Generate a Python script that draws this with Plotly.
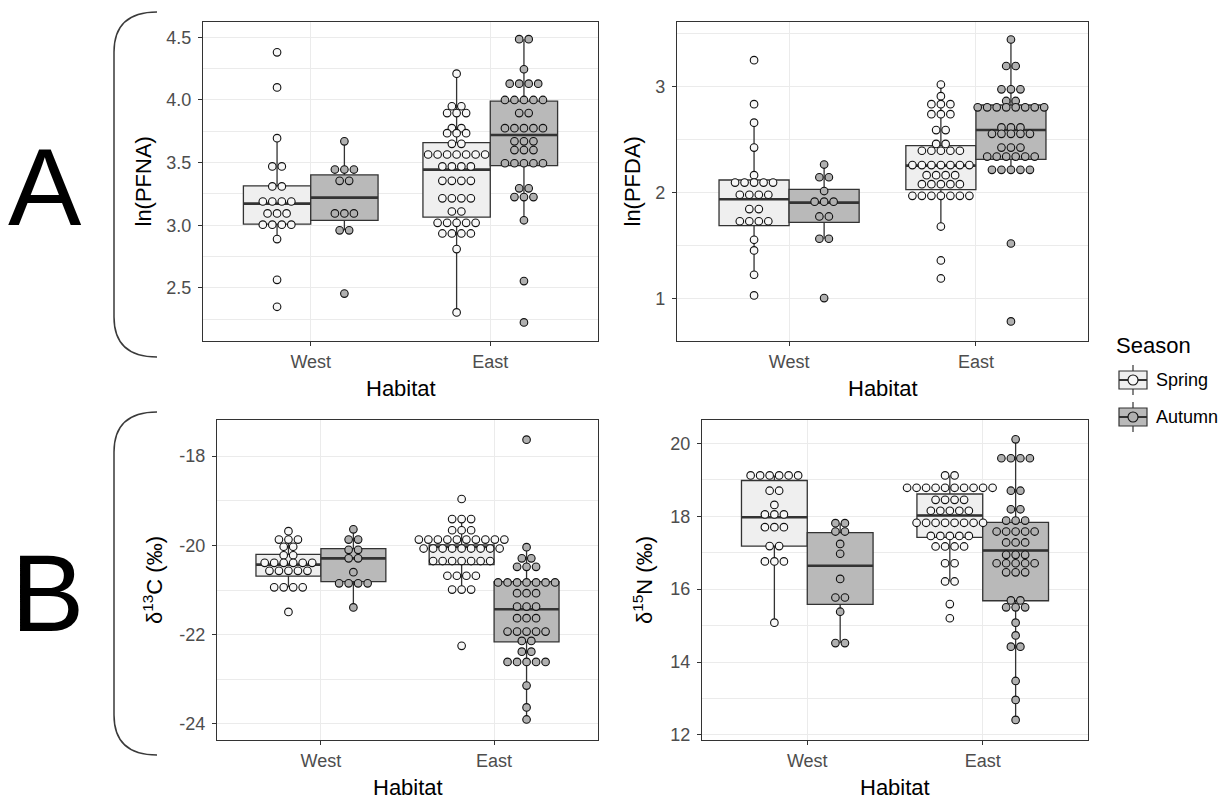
import plotly.graph_objects as go

# Reference canvas size; the page body adds an 8px margin, so the figure is drawn
# 8px smaller and all layout positions are shifted by that margin.
W, H = 1230, 802
PAGE_MARGIN = 8
FIG_W, FIG_H = W - PAGE_MARGIN, H - PAGE_MARGIN

habitats = ["West", "East"]
seasons = ["Spring", "Autumn"]

# ---------------- ln(PFNA) ----------------
pfna_west_spring = [4.38, 4.10, 3.695, 3.47, 3.47, 3.31, 3.31, 3.19, 3.19, 3.19, 3.19,
                    3.095, 3.095, 3.095, 3.005, 3.005, 3.005, 3.005, 2.89, 2.565, 2.35]
pfna_west_autumn = [3.67, 3.445, 3.445, 3.445, 3.355, 3.355, 3.095, 3.095, 3.095,
                    2.96, 2.96, 2.455]
pfna_east_spring = [4.21, 3.95, 3.95, 3.895, 3.895, 3.895, 3.775, 3.775, 3.735, 3.735, 3.735,
                    3.65, 3.65, 3.565, 3.565, 3.565, 3.565, 3.565, 3.565, 3.565,
                    3.47, 3.47, 3.47, 3.47, 3.355, 3.355, 3.355, 3.355,
                    3.215, 3.215, 3.215, 3.215, 3.11, 3.11, 3.02, 3.02, 3.02, 3.02, 3.02,
                    2.935, 2.935, 2.935, 2.935, 2.81, 2.305]
pfna_east_autumn = [4.485, 4.485, 4.245, 4.13, 4.13, 4.13, 4.13, 4.0, 4.0, 4.0, 4.0, 4.0,
                    3.895, 3.895, 3.775, 3.775, 3.775, 3.775, 3.775, 3.67, 3.67, 3.67,
                    3.60, 3.60, 3.60, 3.495, 3.495, 3.495, 3.495, 3.495, 3.295, 3.295,
                    3.225, 3.225, 3.225, 3.04, 2.555, 2.225]
# box stats order: West-Spring, West-Autumn, East-Spring, East-Autumn
pfna_q1 = [3.01, 3.04, 3.065, 3.476]
pfna_med = [3.173, 3.221, 3.444, 3.721]
pfna_q3 = [3.314, 3.402, 3.66, 3.99]
pfna_lo = [2.89, 2.96, 2.305, 3.04]
pfna_hi = [3.695, 3.67, 4.21, 4.485]
pfna_ticks = [2.5, 3.0, 3.5, 4.0, 4.5]
pfna_ticklabels = ["2.5", "3.0", "3.5", "4.0", "4.5"]
pfna_minor = [2.25, 2.75, 3.25, 3.75, 4.25]

# ---------------- ln(PFDA) ----------------
pfda_west_spring = [3.25, 2.835, 2.66, 2.425, 2.165, 2.095, 2.095, 2.095, 2.095, 2.095,
                    1.98, 1.98, 1.98, 1.98, 1.845, 1.845, 1.73, 1.73, 1.73, 1.73,
                    1.555, 1.455, 1.225, 1.03]
pfda_west_autumn = [2.265, 2.145, 2.145, 2.015, 1.915, 1.915, 1.915, 1.775, 1.775,
                    1.565, 1.565, 1.005]
pfda_east_spring = [3.02, 2.91, 2.835, 2.835, 2.835, 2.74, 2.74, 2.74, 2.59, 2.59,
                    2.46, 2.46, 2.395, 2.395, 2.395, 2.395, 2.395,
                    2.26, 2.26, 2.26, 2.26, 2.26, 2.26, 2.26, 2.165, 2.165, 2.165, 2.165,
                    2.08, 2.08, 2.08, 2.08, 2.08, 1.97, 1.97, 1.97, 1.97, 1.97, 1.97, 1.97,
                    1.68, 1.36, 1.19]
pfda_east_autumn = [3.445, 3.195, 3.195, 2.975, 2.975, 2.975, 2.865, 2.865,
                    2.805, 2.805, 2.805, 2.805, 2.805, 2.805, 2.805, 2.805,
                    2.615, 2.615, 2.615, 2.555, 2.555, 2.555, 2.555, 2.555,
                    2.425, 2.425, 2.425, 2.34, 2.34, 2.34, 2.34, 2.34, 2.34,
                    2.215, 2.215, 2.215, 2.215, 2.215, 1.52, 0.785]
pfda_q1 = [1.689, 1.72, 2.028, 2.314]
pfda_med = [1.937, 1.906, 2.255, 2.591]
pfda_q3 = [2.119, 2.031, 2.443, 2.827]
pfda_lo = [1.225, 1.565, 1.68, 2.215]
pfda_hi = [2.66, 2.265, 3.02, 3.445]
pfda_ticks = [1, 2, 3]
pfda_ticklabels = ["1", "2", "3"]
pfda_minor = [1.5, 2.5, 3.5]

# ---------------- d13C ----------------
d13c_west_spring = [-19.68, -19.87, -19.87, -19.87, -20.03, -20.03, -20.22, -20.22,
                    -20.39, -20.39, -20.39, -20.39, -20.39, -20.39,
                    -20.57, -20.57, -20.57, -20.57, -20.57,
                    -20.94, -20.94, -20.94, -20.94, -21.49]
d13c_west_autumn = [-19.64, -19.87, -19.87, -20.10, -20.10, -20.29, -20.29, -20.60,
                    -20.85, -20.85, -20.85, -20.85, -21.39]
d13c_east_spring = [-18.96, -19.41, -19.41, -19.41, -19.66, -19.66, -19.66,
                    -19.87, -19.87, -19.87, -19.87, -19.87, -19.87, -19.87, -19.87, -19.87, -19.87,
                    -20.07, -20.07, -20.07, -20.07, -20.07, -20.07, -20.07, -20.07, -20.07,
                    -20.35, -20.35, -20.35, -20.35, -20.35, -20.35, -20.35,
                    -20.68, -20.68, -20.68, -20.68, -20.99, -20.99, -20.99, -22.25]
d13c_east_autumn = [-17.63, -20.04, -20.29, -20.29, -20.48, -20.48, -20.48,
                    -20.83, -20.83, -20.83, -20.83, -20.83, -20.83, -20.83,
                    -21.07, -21.07, -21.07, -21.37, -21.37, -21.37, -21.63, -21.63, -21.63,
                    -21.93, -21.93, -21.93, -21.93, -21.93, -22.14, -22.14, -22.38, -22.38,
                    -22.61, -22.61, -22.61, -22.61, -22.61, -23.14, -23.63, -23.90]
d13c_q1 = [-20.69, -20.81, -20.43, -22.16]
d13c_med = [-20.43, -20.29, -20.03, -21.43]
d13c_q3 = [-20.20, -20.07, -19.99, -20.81]
d13c_lo = [-20.94, -21.39, -20.99, -23.90]
d13c_hi = [-19.68, -19.64, -19.41, -20.04]
d13c_ticks = [-24, -22, -20, -18]
d13c_ticklabels = ["-24", "-22", "-20", "-18"]
d13c_minor = [-23, -21, -19]

# ---------------- d15N ----------------
d15n_west_spring = [19.12, 19.12, 19.12, 19.12, 19.12, 19.12, 18.70, 18.70, 18.31,
                    18.05, 18.05, 18.05, 17.70, 17.70, 17.70, 17.18, 17.18,
                    16.76, 16.76, 16.76, 15.08]
d15n_west_autumn = [17.81, 17.81, 17.58, 17.58, 17.24, 16.97, 16.28, 15.77, 15.77,
                    15.38, 14.52, 14.52]
d15n_east_spring = [19.12, 19.12, 18.78, 18.78, 18.78, 18.78, 18.78, 18.78, 18.78, 18.78,
                    18.78, 18.78, 18.45, 18.45, 18.45, 18.45, 18.15, 18.15, 18.15, 18.15,
                    18.15, 17.82, 17.82, 17.82, 17.82, 17.82, 17.82, 17.82, 17.82,
                    17.46, 17.46, 17.46, 17.46, 17.46, 17.17, 17.17, 17.17, 17.17,
                    16.71, 16.71, 16.21, 16.21, 15.59, 15.20]
d15n_east_autumn = [20.11, 19.59, 19.59, 19.59, 19.59, 18.70, 18.70, 18.19, 18.19,
                    17.88, 17.88, 17.88, 17.58, 17.58, 17.58, 17.58, 17.58,
                    17.28, 17.28, 17.28, 16.94, 16.94, 16.94, 16.71, 16.71, 16.71, 16.71, 16.71,
                    16.46, 16.46, 16.46, 15.69, 15.69, 15.50, 15.50, 15.50, 15.08, 14.73,
                    14.42, 14.42, 13.48, 12.96, 12.41]
d15n_q1 = [17.18, 15.58, 17.42, 15.68]
d15n_med = [17.97, 16.64, 18.02, 17.06]
d15n_q3 = [18.98, 17.55, 18.61, 17.83]
d15n_lo = [15.08, 14.52, 16.21, 12.41]
d15n_hi = [19.12, 17.81, 19.12, 20.11]
d15n_ticks = [12, 14, 16, 18, 20]
d15n_ticklabels = ["12", "14", "16", "18", "20"]
d15n_minor = [13, 15, 17, 19]

# ---------------- styling ----------------
BOX_FILL = {"Spring": "#efefef", "Autumn": "#b9b9b9"}
DOT_FILL = {"Spring": "#f7f7f7", "Autumn": "#b0b0b0"}
DARK = "#333333"
FONT = "Liberation Sans, Arial, sans-serif"
DODGE = 0.1875
BOXW = 0.375
XRANGE = [0.4, 2.6]
DOT_SPACING_PX = 9.5

panels = [
    dict(ax="", px=(203, 598), py=(22, 341), yr=(2.077, 4.622), title="ln(PFNA)", tx=143,
         groups=[pfna_west_spring, pfna_west_autumn, pfna_east_spring, pfna_east_autumn],
         q1=pfna_q1, med=pfna_med, q3=pfna_q3, lo=pfna_lo, hi=pfna_hi,
         tv=pfna_ticks, tt=pfna_ticklabels, mv=pfna_minor),
    dict(ax="2", px=(677, 1088), py=(22, 341), yr=(0.60, 3.61), title="ln(PFDA)", tx=632,
         groups=[pfda_west_spring, pfda_west_autumn, pfda_east_spring, pfda_east_autumn],
         q1=pfda_q1, med=pfda_med, q3=pfda_q3, lo=pfda_lo, hi=pfda_hi,
         tv=pfda_ticks, tt=pfda_ticklabels, mv=pfda_minor),
    dict(ax="3", px=(217, 598), py=(420, 740), yr=(-24.36, -17.19),
         title="δ<sup>13</sup>C (‰)", tx=153,
         groups=[d13c_west_spring, d13c_west_autumn, d13c_east_spring, d13c_east_autumn],
         q1=d13c_q1, med=d13c_med, q3=d13c_q3, lo=d13c_lo, hi=d13c_hi,
         tv=d13c_ticks, tt=d13c_ticklabels, mv=d13c_minor),
    dict(ax="4", px=(702, 1088), py=(420, 740), yr=(11.86, 20.64),
         title="δ<sup>15</sup>N (‰)", tx=643,
         groups=[d15n_west_spring, d15n_west_autumn, d15n_east_spring, d15n_east_autumn],
         q1=d15n_q1, med=d15n_med, q3=d15n_q3, lo=d15n_lo, hi=d15n_hi,
         tv=d15n_ticks, tt=d15n_ticklabels, mv=d15n_minor),
]


def px2x(px):
    return (px - PAGE_MARGIN) / FIG_W


def px2y(py):
    return 1 - (py - PAGE_MARGIN) / FIG_H


fig = go.Figure()
annotations = []
shapes = []

for p in panels:
    xa, ya = "x" + p["ax"], "y" + p["ax"]
    unit_px = (p["px"][1] - p["px"][0]) / (XRANGE[1] - XRANGE[0])
    dx = DOT_SPACING_PX / unit_px

    # boxes
    for si, season in enumerate(seasons):
        idx = [hi_ * 2 + si for hi_ in range(len(habitats))]
        centers = [hi_ + 1 + (-DODGE if si == 0 else DODGE) for hi_ in range(len(habitats))]
        fig.add_trace(go.Box(
            x=centers, q1=[p["q1"][i] for i in idx], median=[p["med"][i] for i in idx],
            q3=[p["q3"][i] for i in idx], lowerfence=[p["lo"][i] for i in idx],
            upperfence=[p["hi"][i] for i in idx], width=BOXW, whiskerwidth=0,
            boxpoints=False, fillcolor=BOX_FILL[season],
            line=dict(color=DARK, width=1.3), xaxis=xa, yaxis=ya,
            showlegend=False, hoverinfo="skip", name=season))

    # thick median lines
    mx, my = [], []
    for g in range(4):
        c = g // 2 + 1 + (-DODGE if g % 2 == 0 else DODGE)
        mx += [c - BOXW / 2, c + BOXW / 2, None]
        my += [p["med"][g], p["med"][g], None]
    fig.add_trace(go.Scatter(x=mx, y=my, mode="lines", line=dict(color=DARK, width=2.6),
                             xaxis=xa, yaxis=ya, showlegend=False, hoverinfo="skip"))

    # dot plots (centered stacks)
    for g, vals in enumerate(p["groups"]):
        season = seasons[g % 2]
        c = g // 2 + 1 + (-DODGE if g % 2 == 0 else DODGE)
        counts = {}
        for v in vals:
            counts[v] = counts.get(v, 0) + 1
        xs, ys = [], []
        for v, n in counts.items():
            for k in range(n):
                xs.append(c + (k - (n - 1) / 2) * dx)
                ys.append(v)
        fig.add_trace(go.Scatter(
            x=xs, y=ys, mode="markers", xaxis=xa, yaxis=ya, showlegend=False,
            marker=dict(symbol="circle", size=7.6, color=DOT_FILL[season],
                        line=dict(color="#111111", width=1.1)),
            hoverinfo="y"))

    axis_common = dict(showline=True, mirror=True, linecolor=DARK, linewidth=1.3,
                       ticks="outside", ticklen=4, tickcolor=DARK, tickwidth=1,
                       tickfont=dict(size=18, color="#4d4d4d", family=FONT),
                       showgrid=True, gridcolor="#ebebeb", gridwidth=1.1,
                       zeroline=False, automargin=False)
    fig.update_layout(**{
        "xaxis" + p["ax"]: dict(domain=[px2x(p["px"][0]), px2x(p["px"][1])], range=XRANGE,
                                tickmode="array", tickvals=[1, 2], ticktext=habitats,
                                anchor=ya, ticklabelstandoff=0, **axis_common),
        "yaxis" + p["ax"]: dict(domain=[px2y(p["py"][1]), px2y(p["py"][0])], range=list(p["yr"]),
                                tickmode="array", tickvals=p["tv"], ticktext=p["tt"],
                                anchor=xa, ticklabelstandoff=3,
                                minor=dict(tickmode="array", tickvals=p["mv"], showgrid=True,
                                           gridcolor="#ebebeb", gridwidth=0.6),
                                **axis_common),
    })

    # axis titles
    annotations.append(dict(text="Habitat", x=px2x((p["px"][0] + p["px"][1]) / 2),
                            y=px2y(p["py"][1] + 47), xref="paper", yref="paper",
                            showarrow=False, xanchor="center", yanchor="middle",
                            font=dict(size=22, color="black", family=FONT)))
    annotations.append(dict(text=p["title"], x=px2x(p["tx"]),
                            y=px2y((p["py"][0] + p["py"][1]) / 2), xref="paper", yref="paper",
                            showarrow=False, xanchor="center", yanchor="middle", textangle=-90,
                            font=dict(size=22, color="black", family=FONT)))

# big panel letters
annotations.append(dict(text="A", x=px2x(45), y=px2y(186), xref="paper", yref="paper",
                        showarrow=False, xanchor="center", yanchor="middle",
                        font=dict(size=110, color="black", family=FONT)))
annotations.append(dict(text="B", x=px2x(47), y=px2y(592), xref="paper", yref="paper",
                        showarrow=False, xanchor="center", yanchor="middle",
                        font=dict(size=110, color="black", family=FONT)))


# brackets
def bracket(top, bottom, xr=157, xl=114, r=40):
    pts = [(xr, top), (xl, top), (xl, top + r), (xl, bottom - r), (xl, bottom), (xr, bottom)]
    q = [(px2x(a), px2y(b)) for a, b in pts]
    return ("M {0[0]},{0[1]} Q {1[0]},{1[1]} {2[0]},{2[1]} L {3[0]},{3[1]} "
            "Q {4[0]},{4[1]} {5[0]},{5[1]}").format(*q)


for top, bot in [(12, 357), (412, 755)]:
    shapes.append(dict(type="path", path=bracket(top, bot), xref="paper", yref="paper",
                       line=dict(color="#3a3a3a", width=1.5)))

# legend (manual, ggplot-style key)
annotations.append(dict(text="Season", x=px2x(1114), y=px2y(345), xref="paper", yref="paper",
                        showarrow=False, xanchor="left", yanchor="middle",
                        font=dict(size=22, color="black", family=FONT)))
for season, cy in zip(seasons, [380, 417]):
    x0, x1 = 1119, 1147
    xc = (x0 + x1) / 2
    shapes.append(dict(type="line", xref="paper", yref="paper", x0=px2x(xc), x1=px2x(xc),
                       y0=px2y(cy - 15), y1=px2y(cy + 15), line=dict(color=DARK, width=1.2)))
    shapes.append(dict(type="rect", xref="paper", yref="paper", x0=px2x(x0), x1=px2x(x1),
                       y0=px2y(cy - 9), y1=px2y(cy + 9), fillcolor=BOX_FILL[season],
                       line=dict(color=DARK, width=1.2)))
    shapes.append(dict(type="line", xref="paper", yref="paper", x0=px2x(x0), x1=px2x(x1),
                       y0=px2y(cy), y1=px2y(cy), line=dict(color=DARK, width=2)))
    shapes.append(dict(type="circle", xref="paper", yref="paper", x0=px2x(xc - 5),
                       x1=px2x(xc + 5), y0=px2y(cy + 5), y1=px2y(cy - 5),
                       fillcolor=DOT_FILL[season], line=dict(color="#111111", width=1.1)))
    annotations.append(dict(text=season, x=px2x(1154), y=px2y(cy), xref="paper", yref="paper",
                            showarrow=False, xanchor="left", yanchor="middle",
                            font=dict(size=18, color="black", family=FONT)))

fig.update_layout(width=FIG_W, height=FIG_H, margin=dict(l=0, r=0, t=0, b=0),
                  paper_bgcolor="white", plot_bgcolor="white",
                  font=dict(family=FONT), showlegend=False,
                  annotations=annotations, shapes=shapes)

fig.write_html("out.html")
